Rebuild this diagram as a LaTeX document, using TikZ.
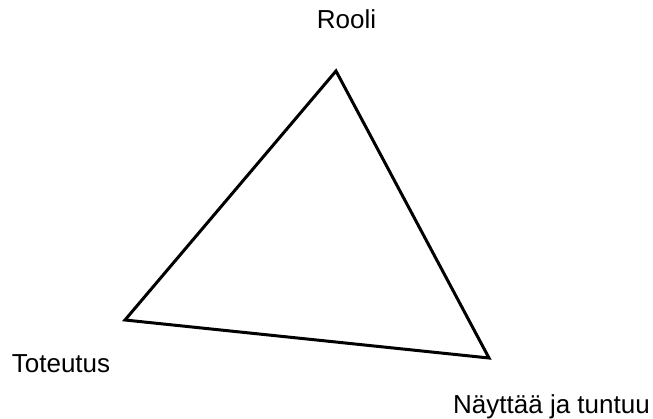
\documentclass[tikz,border=0pt]{standalone}
\usepackage{fontspec}
\setmainfont{Liberation Sans}
\begin{document}
\begin{tikzpicture}[x=1pt, y=-1pt,
    corner/.style={inner sep=0pt, anchor=base, font=\fontsize{26}{31}\selectfont},
    side/.style={draw=black, line width=3pt, line join=miter}
  ]
    \useasboundingbox (0,0) rectangle (653,419);

    \coordinate (top)   at (336,71);
    \coordinate (left)  at (125,320);
    \coordinate (right) at (489,358);

    \node[corner] (rooli)    at (346.5,29) {Rooli};
    \node[corner] (toteutus) at (61,373)   {Toteutus};
    \node[corner] (nayttaa)  at (551.5,413) {Näyttää ja tuntuu};

    \draw[side] (top) -- (left) -- (right) -- cycle;
\end{tikzpicture}
\end{document}
